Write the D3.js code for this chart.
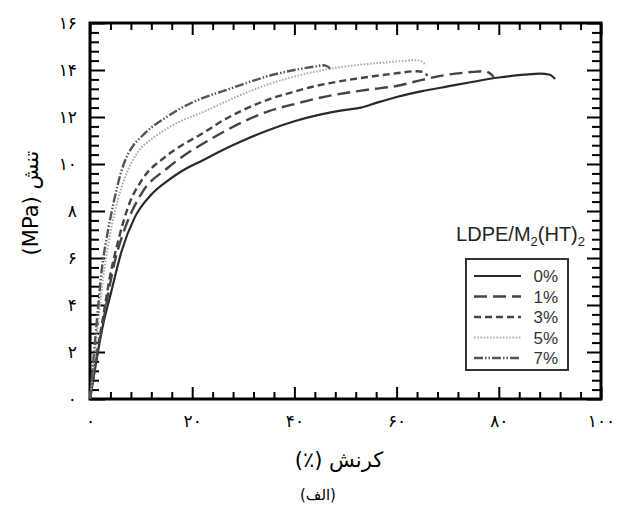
<!DOCTYPE html>
<html>
<head>
<meta charset="utf-8">
<script src="https://cdn.jsdelivr.net/npm/d3@7"></script>
<style>
  body { margin: 0; background: #fff; }
  #chart svg { display: block; }
</style>
</head>
<body>
<div id="chart"></div>
<script>
// strain (%) / stress (MPa)
const series = ["0%", "1%", "3%", "5%", "7%"];

const strain0 = [0, 1, 2.3, 4.2, 6.2, 8.8, 12, 15.3, 18, 22, 26, 30, 35, 40, 45, 50, 53, 56, 60, 65, 70, 75, 80, 85, 88, 90, 91];
const stress0 = [0, 1.3, 2.9, 4.6, 6.3, 7.75, 8.7, 9.3, 9.7, 10.15, 10.6, 11.0, 11.45, 11.82, 12.1, 12.3, 12.4, 12.6, 12.85, 13.1, 13.3, 13.5, 13.68, 13.8, 13.85, 13.8, 13.62];

const strain1 = [0, 1, 2.5, 4.9, 6.9, 10.1, 15.3, 18, 22, 26, 30, 35, 40, 45, 50, 55, 60, 65, 70, 75, 77, 78.5, 79];
const stress1 = [0, 1.4, 3.2, 5.9, 7.3, 8.75, 9.85, 10.3, 10.85, 11.35, 11.8, 12.25, 12.55, 12.82, 13.02, 13.18, 13.32, 13.58, 13.8, 13.92, 13.95, 13.82, 13.7];

const strain3 = [0, 1, 2.5, 3.9, 5.6, 7.5, 10.1, 14.7, 18, 22, 26, 30, 35, 40, 45, 50, 55, 60, 64, 65.5, 66];
const stress3 = [0, 1.5, 3.4, 5.2, 6.8, 8.2, 9.3, 10.3, 10.8, 11.3, 11.85, 12.3, 12.75, 13.08, 13.36, 13.56, 13.72, 13.86, 13.95, 13.9, 13.75];

const strain5 = [0, 1, 2.6, 3.6, 4.9, 6.9, 9.5, 12, 15, 18, 22, 26, 30, 35, 40, 45, 50, 55, 60, 64, 65.8];
const stress5 = [0, 2.0, 5.2, 6.6, 8.0, 9.45, 10.55, 11.05, 11.5, 11.85, 12.2, 12.6, 12.98, 13.4, 13.72, 13.97, 14.15, 14.27, 14.36, 14.42, 14.22];

const strain7 = [0, 1.66, 2.3, 3.3, 4.6, 6.2, 7.5, 8.5, 10, 12, 15, 18, 22, 26, 30, 35, 40, 44, 45.5, 46.5, 47];
const stress7 = [0, 4.08, 5.5, 6.9, 8.33, 9.74, 10.45, 10.8, 11.15, 11.55, 12.0, 12.4, 12.8, 13.1, 13.4, 13.75, 14.0, 14.15, 14.2, 14.15, 14.05];

const xTicks = [0, 20, 40, 60, 80, 100];
const xTickLabels = ["۰", "۲۰", "۴۰", "۶۰", "۸۰", "۱۰۰"];
const yTicks = [0, 2, 4, 6, 8, 10, 12, 14, 16];
const yTickLabels = ["۰", "۲", "۴", "۶", "۸", "۱۰", "۱۲", "۱۴", "۱۶"];

const margin = { top: 23, right: 16, bottom: 113, left: 90 };
const W = 617, H = 512;
const width = W - margin.left - margin.right;
const height = H - margin.top - margin.bottom;

const svg = d3.select("#chart")
  .append("svg")
  .attr("width", W)
  .attr("height", H);

const g = svg.append("g")
  .attr("transform", `translate(${margin.left},${margin.top})`);

const x = d3.scaleLinear().domain([0, 100]).range([0, width]);
const y = d3.scaleLinear().domain([0, 16]).range([height, 0]);

const xMinor = d3.range(0, 100.01, 4).filter(v => v % 20 !== 0);
const yMinor = d3.range(0, 16.01, 0.4).map(v => +v.toFixed(1)).filter(v => Math.abs(v / 2 - Math.round(v / 2)) > 0.01);

const persian = "'DejaVu Sans', sans-serif";

// ticks, all pointing inward
function ticks(axis, tr) {
  const a = g.append("g").attr("transform", tr).call(axis);
  a.select(".domain").remove();
  a.selectAll(".tick line").attr("stroke", "#000").attr("stroke-width", 2);
  return a;
}

const xAx = ticks(d3.axisBottom(x).tickValues(xTicks).tickSize(-12).tickPadding(16)
  .tickFormat((d, i) => xTickLabels[i]), `translate(0,${height})`);
ticks(d3.axisBottom(x).tickValues(xMinor).tickSize(-7).tickFormat(""), `translate(0,${height})`);
ticks(d3.axisTop(x).tickValues(xTicks).tickSize(-12).tickFormat(""), "translate(0,0)");
ticks(d3.axisTop(x).tickValues(xMinor).tickSize(-7).tickFormat(""), "translate(0,0)");

const yAx = ticks(d3.axisLeft(y).tickValues(yTicks).tickSize(-15).tickPadding(13)
  .tickFormat((d, i) => yTickLabels[i]), "translate(0,0)");
ticks(d3.axisLeft(y).tickValues(yMinor).tickSize(-9).tickFormat(""), "translate(0,0)");
ticks(d3.axisRight(y).tickValues(yTicks).tickSize(-14).tickFormat(""), `translate(${width},0)`);
ticks(d3.axisRight(y).tickValues(yMinor).tickSize(-9).tickFormat(""), `translate(${width},0)`);

xAx.selectAll("text").attr("font-family", persian).attr("font-size", 17).attr("fill", "#000");
yAx.selectAll("text").attr("font-family", persian).attr("font-size", 17).attr("fill", "#000");

// frame
g.append("rect")
  .attr("width", width)
  .attr("height", height)
  .attr("fill", "none")
  .attr("stroke", "#000")
  .attr("stroke-width", 3);

// curves
const styles = [
  { color: "#2a2a2a", dash: null, w: 2.2 },
  { color: "#444", dash: "13,6", w: 2.4 },
  { color: "#444", dash: "7,4", w: 2.4 },
  { color: "#aaa", dash: "1.6,1.6", w: 2 },
  { color: "#555", dash: "9,2,1.5,2,1.5,2", w: 2.4 }
];

const strains = [strain0, strain1, strain3, strain5, strain7];
const stresses = [stress0, stress1, stress3, stress5, stress7];

const line = d3.line()
  .x(d => x(d[0]))
  .y(d => y(d[1]))
  .curve(d3.curveMonotoneX);

series.forEach((s, i) => {
  const pts = strains[i].map((v, j) => [v, stresses[i][j]]);
  g.append("path")
    .datum(pts)
    .attr("fill", "none")
    .attr("stroke", styles[i].color)
    .attr("stroke-width", styles[i].w)
    .attr("stroke-dasharray", styles[i].dash)
    .attr("d", line);
});

// legend
const lg = svg.append("g").attr("transform", "translate(466,259)");

svg.append("text")
  .attr("x", 585)
  .attr("y", 241)
  .attr("text-anchor", "end")
  .attr("font-family", "'Liberation Sans', Arial, sans-serif")
  .attr("font-size", 20)
  .attr("fill", "#222")
  .html('LDPE/M<tspan font-size="13" dy="5">2</tspan><tspan dy="-5">(HT)</tspan><tspan font-size="13" dy="5">2</tspan>');

lg.append("rect")
  .attr("width", 102)
  .attr("height", 111)
  .attr("fill", "#fff")
  .attr("stroke", "#333")
  .attr("stroke-width", 2);

series.forEach((s, i) => {
  const yy = 17 + i * 20.5;
  lg.append("line")
    .attr("x1", 8).attr("x2", 55)
    .attr("y1", yy).attr("y2", yy)
    .attr("stroke", styles[i].color)
    .attr("stroke-width", styles[i].w)
    .attr("stroke-dasharray", styles[i].dash);
  lg.append("text")
    .attr("x", 92)
    .attr("y", yy + 6)
    .attr("text-anchor", "end")
    .attr("font-family", "'Liberation Sans', Arial, sans-serif")
    .attr("font-size", 17)
    .attr("fill", "#333")
    .text(s);
});

// axis titles
svg.append("text")
  .attr("x", 339)
  .attr("y", 467)
  .attr("text-anchor", "middle")
  .attr("direction", "rtl")
  .attr("font-family", persian)
  .attr("font-size", 21)
  .attr("fill", "#000")
  .text("کرنش (٪)");

svg.append("text")
  .attr("x", 318)
  .attr("y", 500)
  .attr("text-anchor", "middle")
  .attr("direction", "rtl")
  .attr("font-family", persian)
  .attr("font-size", 15)
  .attr("fill", "#000")
  .text("(الف)");

svg.append("text")
  .attr("transform", "translate(38,203) rotate(-90)")
  .attr("text-anchor", "middle")
  .attr("direction", "rtl")
  .attr("font-family", persian)
  .attr("font-size", 21)
  .attr("fill", "#000")
  .text("تنش (MPa)");
</script>
</body>
</html>
